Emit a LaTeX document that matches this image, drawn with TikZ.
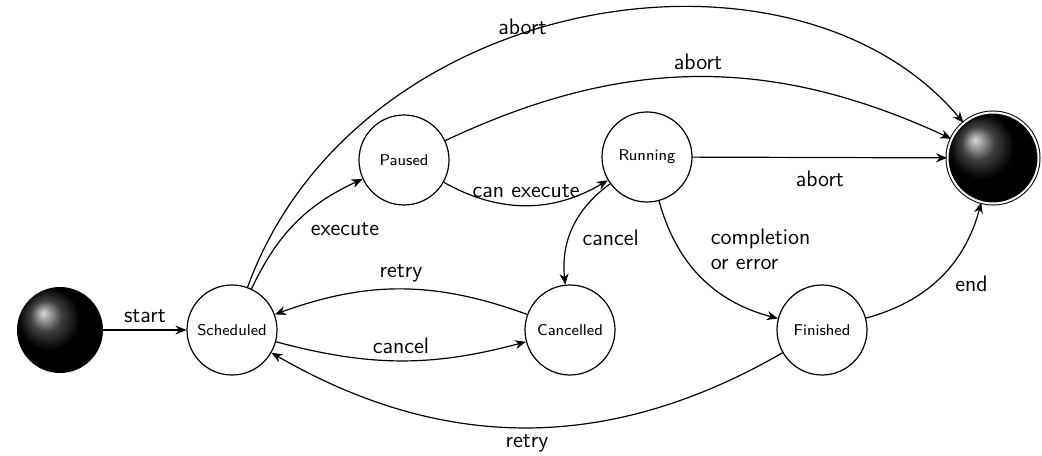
\documentclass[tikz,border=0pt]{standalone}
\usetikzlibrary{arrows.meta,shapes.geometric}
\begin{document}
\begin{tikzpicture}[x=0.5pt,y=0.5pt,
  state/.style={circle,draw,line width=0.6pt,minimum size=45pt,inner sep=0pt,
    font=\sffamily\fontsize{7.8}{9}\selectfont},
  initball/.style={circle,ball color=black,minimum size=43pt,inner sep=0pt},
  finalball/.style={circle,ball color=black,draw,line width=0.5pt,double=white,
    double distance=1pt,minimum size=45.5pt,inner sep=0pt},
  trans/.style={-{Stealth[length=5.5pt,width=4.5pt]},line width=0.6pt},
  lbl/.style={font=\sffamily\fontsize{11.2}{12.5}\selectfont}
]
\useasboundingbox (0,0) rectangle (1042,455);

% states
\node[initball] (init) at (60,125) {};
\node[state] (sched) at (232,125) {Scheduled};
\node[state] (paused) at (404,295) {Paused};
\node[state] (running) at (647,298) {Running};
\node[state] (cancelled) at (570,125) {Cancelled};
\node[state] (finished) at (822,125) {Finished};
\node[finalball] (final) at (993,297) {};

% transitions
\draw[trans] (init) -- node[lbl,above] {start} (sched);
\draw[trans] (sched) to[bend left=20] node[lbl,auto,swap,pos=0.57] {execute} (paused);
\draw[trans] (paused) to[bend right=30] node[lbl,auto] {can execute} (running);
\draw[trans] (running) -- node[lbl,below=3pt] {abort} (final);
\draw[trans] (running) to[bend right=30] node[lbl,auto,pos=0.45] {cancel} (cancelled);
\draw[trans] (running) to[bend right=30]
  node[lbl,pos=0.45,anchor=west,align=left,xshift=4pt,yshift=11pt] {completion\\or error} (finished);
\draw[trans] (finished) to[bend right=30] node[lbl,auto,swap,pos=0.57] {end} (final);
\draw[trans] (cancelled) to[bend right=20] node[lbl,auto,swap] {retry} (sched);
\draw[trans] (sched) to[bend right=15] node[lbl,auto] {cancel} (cancelled);
\draw[trans] (finished) to[bend left=30] node[lbl,auto] {retry} (sched);
\draw[trans] (paused) to[bend left=25] node[lbl,auto] {abort} (final);
\draw[trans] (sched) to[out=70,in=130,out looseness=1.1,in looseness=0.92]
  node[lbl,pos=0.43,above=-4pt] {abort} (final);
\end{tikzpicture}
\end{document}
